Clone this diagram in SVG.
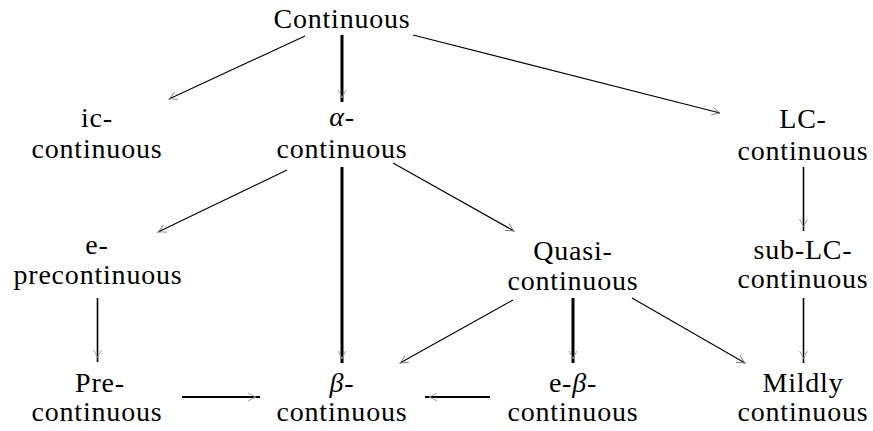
<svg xmlns="http://www.w3.org/2000/svg" width="873" height="431" viewBox="0 0 873 431">
<style>
text{font-size:28px;letter-spacing:0.8px;text-anchor:middle;fill:#000}
.g{font-style:italic}
.c line{stroke:#000;fill:none}
.t1{stroke-width:1.1}
.t2{stroke-width:1.6}
.t3{stroke-width:2.2}
.t4{stroke-width:3}
</style>
<defs>
<marker id="ah" viewBox="-10 -6 12 12" refX="0" refY="0" markerWidth="12" markerHeight="12" markerUnits="userSpaceOnUse" orient="auto">
<path d="M-8,-4 Q-3,-1 0,0 Q-3,1 -8,4" fill="none" stroke="#777" stroke-width="0.9"/>
</marker>
<marker id="ahi" viewBox="-14 -6 16 12" refX="0" refY="0" markerWidth="16" markerHeight="12" markerUnits="userSpaceOnUse" orient="auto">
<path d="M-12,-4 Q-7,-1 -4,0 Q-7,1 -12,4" fill="none" stroke="#999" stroke-width="0.9"/>
</marker>
</defs>
<rect width="873" height="431" fill="#fff"/>
<g id="connectors" class="c">
<line class="t1" x1="305" y1="36" x2="169" y2="99" marker-end="url(#ah)"/>
<line class="t4" x1="342" y1="35" x2="342" y2="102" marker-end="url(#ahi)"/>
<line class="t1" x1="413" y1="35" x2="720" y2="113" marker-end="url(#ah)"/>
<line class="t1" x1="287" y1="170" x2="158" y2="232" marker-end="url(#ah)"/>
<line class="t4" x1="342" y1="167" x2="342" y2="363" marker-end="url(#ahi)"/>
<line class="t1" x1="393" y1="163" x2="514" y2="231" marker-end="url(#ah)"/>
<line class="t2" x1="803.5" y1="167" x2="803.5" y2="231" marker-end="url(#ahi)"/>
<line class="t2" x1="97.5" y1="298" x2="97.5" y2="362" marker-end="url(#ahi)"/>
<line class="t1" x1="513" y1="300" x2="400" y2="363" marker-end="url(#ah)"/>
<line class="t4" x1="573" y1="298" x2="573" y2="363" marker-end="url(#ahi)"/>
<line class="t1" x1="632" y1="298" x2="745" y2="363" marker-end="url(#ah)"/>
<line class="t2" x1="803.5" y1="298" x2="803.5" y2="363" marker-end="url(#ahi)"/>
<line class="t3" x1="182" y1="397" x2="260" y2="397" marker-end="url(#ahi)"/>
<line class="t3" x1="490" y1="397" x2="425" y2="397" marker-end="url(#ahi)"/>
</g>
<g id="n-continuous" font-family="serif"><text x="342" y="28" font-family="serif">Continuous</text></g>
<g id="n-ic" font-family="serif"><text x="97" y="127" font-family="serif">ic-</text><text x="97" y="158" font-family="serif">continuous</text></g>
<g id="n-alpha" font-family="serif"><text x="342" y="126" font-family="serif"><tspan class="g">α</tspan>-</text><text x="342" y="158" font-family="serif">continuous</text></g>
<g id="n-lc" font-family="serif"><text x="803" y="128" font-family="serif">LC-</text><text x="803" y="160" font-family="serif">continuous</text></g>
<g id="n-epre" font-family="serif"><text x="97" y="254" font-family="serif">e-</text><text x="98" y="284" font-family="serif">precontinuous</text></g>
<g id="n-quasi" font-family="serif"><text x="573" y="260" font-family="serif">Quasi-</text><text x="573" y="290" font-family="serif">continuous</text></g>
<g id="n-sublc" font-family="serif"><text x="803" y="259" font-family="serif">sub-LC-</text><text x="803" y="288" font-family="serif">continuous</text></g>
<g id="n-pre" font-family="serif"><text x="100" y="392" font-family="serif">Pre-</text><text x="97" y="421" font-family="serif">continuous</text></g>
<g id="n-beta" font-family="serif"><text x="342" y="392" font-family="serif"><tspan class="g">β</tspan>-</text><text x="342" y="421" font-family="serif">continuous</text></g>
<g id="n-ebeta" font-family="serif"><text x="573" y="392" font-family="serif">e-<tspan class="g">β</tspan>-</text><text x="573" y="421" font-family="serif">continuous</text></g>
<g id="n-mildly" font-family="serif"><text x="803" y="392" font-family="serif">Mildly</text><text x="803" y="421" font-family="serif">continuous</text></g>
</svg>
